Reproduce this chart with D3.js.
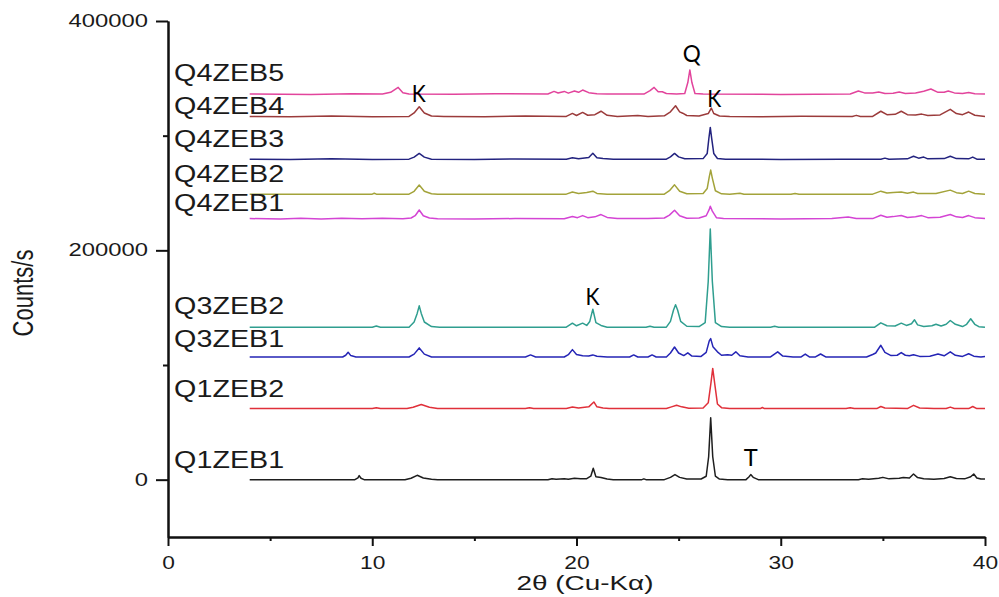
<!DOCTYPE html>
<html>
<head>
<meta charset="utf-8">
<script src="https://cdn.jsdelivr.net/npm/d3@7"></script>
<style>
  html, body { margin: 0; padding: 0; background: #fff; }
  svg { display: block; }
  text { font-family: "Liberation Sans", Arial, sans-serif; fill: #1a1a1a; }
</style>
</head>
<body>
<svg id="chart" width="999" height="597"></svg>
<script>
// ---------------- DATA ----------------
const seriesNames = ["Q1ZEB1","Q1ZEB2","Q3ZEB1","Q3ZEB2","Q4ZEB1","Q4ZEB2","Q4ZEB3","Q4ZEB4","Q4ZEB5"];
const seriesColors = ["#1e1e1e","#e0303a","#2525b5","#2f9e8f","#d444d4","#a3a33a","#23237f","#9b3b3b","#e2449c"];
// vertical stacking offset of each pattern (counts/s)
const offsets = [0, 62000, 107000, 133000, 227700, 249000, 279500, 316800, 336300];
// label anchor value (counts/s) for each series name
const labelValues = [10500, 72500, 115300, 144100, 234100, 259400, 290000, 318800, 347600];

const xTicks = [0, 10, 20, 30, 40];
const xMinorTicks = [5, 15, 25, 35];
const yTicks = [0, 200000, 400000];
const yMinorTicks = [100000, 300000];

// [2theta, intensity above offset]
const q1zeb1 = [[4,0],[9.15,0],[9.3,1500],[9.36,3500],[9.45,1200],[9.6,0],
 [11.6,0],[11.9,1200],[12.2,3800],[12.5,1500],[12.9,300],[13.2,0],
 [18.6,0],[18.8,800],[19.0,300],[19.4,900],[19.6,400],[19.9,1200],[20.2,700],[20.5,900],[20.7,3000],[20.82,9900],[20.95,2500],[21.2,1800],[21.5,600],[21.8,0],
 [23.2,0],[23.3,700],[23.4,0],
 [24.3,0],[24.6,2000],[24.82,4400],[25.05,2000],[25.4,500],[26.1,600],[26.35,3000],[26.47,20000],[26.57,54000],[26.67,20000],[26.8,3000],[27.0,500],[27.4,0],
 [28.3,0],[28.45,2500],[28.53,4400],[28.65,2000],[28.9,0],
 [33.8,0],[34.0,800],[34.3,300],[34.8,1200],[35.0,2000],[35.3,700],[35.8,1200],[36.0,1800],[36.3,1500],[36.5,5000],[36.7,1800],[37.0,800],[37.5,300],[38.0,1000],[38.3,2500],[38.6,1000],[39.0,700],[39.3,2500],[39.45,5000],[39.6,1500],[39.8,600],[40,500]];

const q1zeb2 = [[4,0],[10.0,0],[10.2,800],[10.4,0],[11.7,0],[12.0,1200],[12.4,3500],[12.8,1200],[13.2,0],[17.5,0],[17.7,800],[17.9,0],
 [19.5,0],[19.8,1300],[20.1,500],[20.6,1500],[20.85,5800],[21.0,1500],[21.3,500],[21.6,0],
 [24.4,0],[24.65,1500],[24.9,2900],[25.15,1500],[25.5,300],[26.2,500],[26.45,5000],[26.58,22000],[26.67,35000],[26.78,20000],[26.9,4000],[27.1,800],[27.5,0],
 [29.0,0],[29.1,900],[29.2,0],[33.2,0],[33.4,800],[33.6,0],[34.7,0],[34.9,1800],[35.1,500],[36.2,0],[36.5,2800],[36.8,500],[37.5,0],[38.1,0],[38.3,1300],[38.5,0],[39.2,0],[39.4,1800],[39.6,0],[40,0]];

const q3zeb1 = [[4,0],[8.55,0],[8.7,1500],[8.82,4100],[8.95,1200],[9.2,0],[11.8,0],[12.05,2500],[12.3,7900],[12.55,2500],[12.9,0],
 [17.5,0],[17.75,1800],[18.0,0],[19.4,0],[19.6,2000],[19.8,6400],[20.0,2200],[20.3,1000],[20.6,800],[20.8,1800],[21.0,600],[21.5,0],
 [22.6,0],[22.8,1800],[23.0,0],[23.5,0],[23.7,1800],[23.9,0],[24.4,0],[24.6,3500],[24.8,8700],[25.0,3500],[25.25,1200],[25.45,3600],[25.65,800],
 [26.1,500],[26.35,4000],[26.5,14000],[26.57,16000],[26.68,9000],[26.9,4500],[27.1,1500],[27.4,2000],[27.6,1500],[27.8,4500],[28.0,1000],[28.4,0],
 [29.5,0],[29.85,4500],[30.1,800],[30.6,0],[31.0,0],[31.2,2500],[31.4,0],[31.7,0],[31.95,2600],[32.2,0],
 [34.2,0],[34.5,2200],[34.65,3500],[34.9,10200],[35.1,4000],[35.4,1200],[35.7,1500],[35.9,3800],[36.1,1500],[36.3,1000],[36.5,2000],[36.8,500],
 [37.3,700],[37.7,2600],[38.0,1000],[38.3,4500],[38.55,1500],[38.9,500],[39.2,2800],[39.45,700],[39.8,0],[40,500]];

const q3zeb2 = [[4,0],[10.0,0],[10.2,1000],[10.4,0],[11.8,0],[12.05,4500],[12.2,12000],[12.3,18600],[12.4,12000],[12.55,4500],[12.9,500],[13.3,0],
 [19.5,0],[19.8,3500],[20.0,1200],[20.3,3500],[20.5,1500],[20.65,5000],[20.8,15700],[20.95,4000],[21.2,1500],[21.5,0],
 [23.4,0],[23.6,800],[23.8,0],[24.4,0],[24.6,5000],[24.75,15000],[24.85,19500],[24.95,15000],[25.1,5000],[25.4,800],
 [26.0,500],[26.3,4000],[26.45,40000],[26.55,85600],[26.65,40000],[26.8,4000],[27.1,500],[27.5,0],[29.5,0],[29.7,700],[29.9,0],
 [34.6,0],[34.9,3800],[35.2,1200],[35.6,1000],[35.9,3500],[36.15,1500],[36.4,3000],[36.55,6400],[36.7,2000],[37.0,500],[37.4,1200],[37.6,2600],[37.85,1000],
 [38.1,2500],[38.3,5800],[38.55,2500],[38.9,500],[39.1,2500],[39.3,7300],[39.5,2500],[39.7,400],[40,0]];

const q4zeb1 = [[4,0],[5.5,-300],[6.5,300],[7.5,-300],[8.5,300],[9.5,-200],[10.5,300],[11.5,-200],[11.9,500],[12.1,2500],[12.3,7500],[12.5,2500],[12.8,500],[13.2,-200],
 [15,-300],[17,0],[19.4,-200],[19.8,1800],[20.05,800],[20.3,2600],[20.55,800],[20.9,1500],[21.2,3500],[21.5,1000],[22,0],[23.5,0],
 [24.3,500],[24.55,3000],[24.8,7300],[25.05,2500],[25.4,300],[26.0,500],[26.35,2500],[26.5,8000],[26.55,10800],[26.65,6500],[26.85,800],[27.2,0],
 [30,-300],[32.5,0],[33.3,1300],[33.7,0],[34.5,0],[34.9,2900],[35.2,1200],[35.5,1700],[35.9,2600],[36.2,1000],[36.6,1500],[36.9,2600],[37.2,800],
 [37.8,1200],[38.3,3500],[38.6,1500],[38.9,1000],[39.2,2600],[39.5,800],[40,0]];

const q4zeb2 = [[4,0],[10.0,0],[10.1,800],[10.2,0],[11.8,0],[12.05,2500],[12.3,7900],[12.55,2500],[12.9,300],[13.2,0],
 [19.5,0],[19.8,1800],[20.1,600],[20.5,1500],[20.8,2600],[21.0,600],[21.5,0],
 [24.3,0],[24.55,3000],[24.8,8100],[25.05,2500],[25.4,300],[26.2,500],[26.4,5000],[26.5,15000],[26.57,21000],[26.65,14000],[26.8,3000],[27.1,300],[27.5,0],
 [28.0,700],[28.2,0],[30.5,0],[30.7,600],[30.9,0],[34.5,0],[34.9,2600],[35.2,1000],[35.5,1500],[35.9,1800],[36.2,700],[36.5,1800],[36.7,500],
 [37.6,600],[38.3,3500],[38.6,1300],[38.9,600],[39.2,2600],[39.5,500],[40,0]];

const q4zeb3 = [[4,0],[6,-300],[8,300],[10,-200],[11.8,0],[12.05,1800],[12.3,5000],[12.55,1800],[12.9,0],[15,-300],[17,200],
 [19.5,0],[19.8,1300],[20.1,400],[20.6,1500],[20.8,5200],[21.0,1200],[21.3,600],[21.8,0],
 [24.4,0],[24.6,2000],[24.8,5000],[25.0,2000],[25.3,400],[26.2,500],[26.4,5000],[26.48,18000],[26.55,27700],[26.62,18000],[26.72,5000],[26.9,600],[27.3,0],
 [30,-200],[33,0],[34.9,0],[35.1,900],[35.3,0],[36.2,300],[36.5,2600],[36.75,900],[37.0,1800],[37.2,300],[38.0,500],[38.3,2600],[38.6,500],[39.2,300],[39.4,1800],[39.6,0],[40,0]];

const q4zeb4 = [[4,0],[6,-300],[8,300],[10,-300],[11.8,0],[12.05,3000],[12.3,8400],[12.55,3000],[12.9,300],[13.5,0],[15.5,-300],[17.5,300],
 [19.5,0],[19.8,2600],[20.0,800],[20.3,3500],[20.55,1000],[20.9,1500],[21.2,4500],[21.5,1000],[22.0,0],[22.5,300],[23.0,700],[23.5,0],
 [24.3,500],[24.6,4000],[24.85,9300],[25.05,4000],[25.2,2800],[25.4,800],[26.0,300],[26.45,2500],[26.6,7300],[26.72,2500],[27.0,300],[27.5,0],
 [29,-300],[31,200],[33.5,0],[33.7,900],[33.9,0],[34.5,0],[34.9,4500],[35.2,1500],[35.6,1800],[35.9,4500],[36.2,1500],[36.6,1300],[36.9,2000],[37.2,800],
 [37.8,1300],[38.3,6200],[38.6,2500],[38.9,1500],[39.2,3800],[39.5,1000],[40,0]];

const q4zeb5 = [[4,0],[7,-300],[9,300],[10.5,0],[10.9,1500],[11.27,5800],[11.5,1200],[11.8,0],[14,-200],[16,300],
 [18.6,0],[18.9,2300],[19.1,900],[19.4,2300],[19.6,800],[19.9,2600],[20.1,1500],[20.3,3500],[20.6,1200],[21.0,300],[21.5,0],
 [23.3,0],[23.6,3000],[23.8,5800],[24.0,2000],[24.2,2000],[24.4,500],[24.9,0],[25.3,500],[25.45,10000],[25.55,21000],[25.65,10000],[25.8,500],[26.2,0],
 [30,-300],[33.4,0],[33.8,2600],[34.1,1000],[34.5,1000],[34.8,1800],[35.1,500],[35.5,700],[35.8,1800],[36.1,500],[36.6,1000],[37.0,2500],[37.35,4400],
 [37.7,1500],[38.0,1500],[38.2,2600],[38.5,1000],[38.9,500],[39.2,1300],[39.5,300],[40,0]];

const seriesData = [q1zeb1, q1zeb2, q3zeb1, q3zeb2, q4zeb1, q4zeb2, q4zeb3, q4zeb4, q4zeb5];

// peak annotations: label, 2theta, counts (text baseline)
const annotLabels = ["Q", "K", "K", "K", "T"];
const annotTheta = [25.64, 12.28, 26.74, 20.78, 28.53];
const annotValue = [364200, 329300, 324900, 152000, 12200];

// ---------------- CHART ----------------
const svg = d3.select("#chart");
const plot = { left: 168, right: 985, top: 21, bottom: 537 };

const x = d3.scaleLinear().domain([0, 40]).range([plot.left, plot.right]);
const y = d3.scaleLinear().domain([-50000, 400000]).range([plot.bottom, plot.top]);

function stretchText(sel, factor) {
  sel.each(function () {
    const w = this.getComputedTextLength();
    d3.select(this).attr("textLength", w * factor).attr("lengthAdjust", "spacingAndGlyphs");
  });
}

// lines
const line = d3.line().x(d => x(d[0])).y(d => y(d[1]));
seriesData.forEach((pts, i) => {
  const shifted = pts.map(p => [p[0], p[1] + offsets[i]]);
  svg.append("path")
    .datum(shifted)
    .attr("fill", "none")
    .attr("stroke", seriesColors[i])
    .attr("stroke-width", 1.5)
    .attr("stroke-linejoin", "round")
    .attr("d", line);
});

// axes
const xAxis = svg.append("g").attr("transform", `translate(0,${plot.bottom})`)
  .call(d3.axisBottom(x).tickValues(xTicks).tickSize(9).tickPadding(11).tickSizeOuter(0));
svg.append("g").attr("transform", `translate(0,${plot.bottom})`)
  .call(d3.axisBottom(x).tickValues(xMinorTicks).tickSize(4).tickFormat("").tickSizeOuter(0));
const yAxis = svg.append("g").attr("transform", `translate(${plot.left},0)`)
  .call(d3.axisLeft(y).tickValues(yTicks).tickSize(12).tickPadding(8).tickSizeOuter(0).tickFormat(d3.format("d")));
svg.append("g").attr("transform", `translate(${plot.left},0)`)
  .call(d3.axisLeft(y).tickValues(yMinorTicks).tickSize(5).tickFormat("").tickSizeOuter(0));

svg.selectAll(".domain").attr("stroke", "#111").attr("stroke-width", 2);
svg.selectAll(".tick line").attr("stroke", "#111").attr("stroke-width", 2);
svg.selectAll(".tick text").attr("font-size", 17.5).attr("font-family", "Liberation Sans, Arial, sans-serif").attr("fill", "#1a1a1a");
stretchText(xAxis.selectAll(".tick text"), 1.3);
stretchText(yAxis.selectAll(".tick text"), 1.36);

// axis titles
svg.append("text")
  .attr("x", 585).attr("y", 590)
  .attr("text-anchor", "middle")
  .attr("font-size", 20)
  .attr("textLength", 137).attr("lengthAdjust", "spacingAndGlyphs")
  .text("2θ (Cu-Kα)");

svg.append("text")
  .attr("transform", "translate(33,293) scale(1.33,1) rotate(-90)")
  .attr("text-anchor", "middle")
  .attr("font-size", 22)
  .text("Counts/s");

// series labels
seriesNames.forEach((name, i) => {
  svg.append("text")
    .attr("x", x(0.3))
    .attr("y", y(labelValues[i]))
    .attr("font-size", 23)
    .attr("textLength", 110).attr("lengthAdjust", "spacingAndGlyphs")
    .text(name);
});

// peak annotations
const annotWidths = { Q: 18, K: 14, T: 14 };
annotLabels.forEach((lab, i) => {
  svg.append("text")
    .attr("x", x(annotTheta[i]))
    .attr("y", y(annotValue[i]))
    .attr("text-anchor", "middle")
    .attr("font-size", 24)
    .attr("textLength", annotWidths[lab]).attr("lengthAdjust", "spacingAndGlyphs")
    .style("font-family", "Lato, 'Open Sans', sans-serif")
    .style("fill", "#000")
    .text(lab);
});
</script>
</body>
</html>
